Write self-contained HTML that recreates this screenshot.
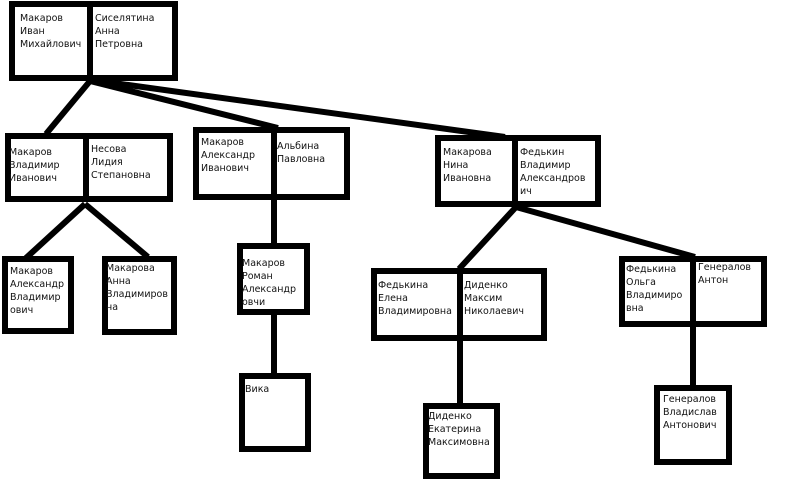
<!DOCTYPE html>
<html><head><meta charset="utf-8"><style>
html,body{margin:0;padding:0;background:#fff;width:800px;height:484px;overflow:hidden}
text{font-family:"DejaVu Sans","Liberation Sans",sans-serif;font-size:9.5px;fill:#111}
</style></head><body>
<svg width="800" height="484" viewBox="0 0 800 484" xmlns="http://www.w3.org/2000/svg">
<g stroke="#000" stroke-width="6" fill="none" stroke-linecap="butt">
<line x1="90" y1="81" x2="46" y2="134"/>
<line x1="90" y1="81" x2="278" y2="128"/>
<line x1="92" y1="80" x2="505" y2="137"/>
<line x1="85" y1="204" x2="26" y2="258"/>
<line x1="85" y1="204" x2="148" y2="257"/>
<line x1="274" y1="199" x2="274" y2="243"/>
<line x1="274" y1="315" x2="274" y2="374"/>
<line x1="516" y1="207" x2="459" y2="269"/>
<line x1="516" y1="207" x2="695" y2="257"/>
<line x1="460" y1="341" x2="460" y2="403"/>
<line x1="693" y1="327" x2="693" y2="385"/>
<rect x="12" y="4" width="163" height="74"/><line x1="90" y1="4" x2="90" y2="78"/>
<rect x="8" y="136" width="162" height="63"/><line x1="86" y1="136" x2="86" y2="199"/>
<rect x="196" y="130" width="151" height="67"/><line x1="274" y1="130" x2="274" y2="197"/>
<rect x="438" y="138" width="160" height="66"/><line x1="515" y1="138" x2="515" y2="204"/>
<rect x="374" y="271" width="170" height="67"/><line x1="460" y1="271" x2="460" y2="338"/>
<rect x="622" y="259" width="142" height="65"/><line x1="693" y1="259" x2="693" y2="324"/>
<rect x="5" y="259" width="66" height="72"/>
<rect x="105" y="259" width="69" height="73"/>
<rect x="240" y="246" width="67" height="66"/>
<rect x="242" y="376" width="66" height="73"/>
<rect x="426" y="406" width="71" height="70"/>
<rect x="657" y="388" width="72" height="74"/>
</g>
<g>
<text x="20" y="21">Макаров</text><text x="20" y="34">Иван</text><text x="20" y="47">Михайлович</text>
<text x="95" y="21">Сиселятина</text><text x="95" y="34">Анна</text><text x="95" y="47">Петровна</text>
<text x="9" y="155">Макаров</text><text x="9" y="168">Владимир</text><text x="9" y="181">Иванович</text>
<text x="91" y="152">Несова</text><text x="91" y="165">Лидия</text><text x="91" y="178">Степановна</text>
<text x="201" y="145">Макаров</text><text x="201" y="158">Александр</text><text x="201" y="171">Иванович</text>
<text x="277" y="149">Альбина</text><text x="277" y="162">Павловна</text>
<text x="443" y="155">Макарова</text><text x="443" y="168">Нина</text><text x="443" y="181">Ивановна</text>
<text x="520" y="155">Федькин</text><text x="520" y="168">Владимир</text><text x="520" y="181">Александров</text><text x="520" y="194">ич</text>
<text x="378" y="288">Федькина</text><text x="378" y="301">Елена</text><text x="378" y="314">Владимировна</text>
<text x="464" y="288">Диденко</text><text x="464" y="301">Максим</text><text x="464" y="314">Николаевич</text>
<text x="626" y="272">Федькина</text><text x="626" y="285">Ольга</text><text x="626" y="298">Владимиро</text><text x="626" y="311">вна</text>
<text x="698" y="270">Генералов</text><text x="698" y="283">Антон</text>
<text x="10" y="274">Макаров</text><text x="10" y="287">Александр</text><text x="10" y="300">Владимир</text><text x="10" y="313">ович</text>
<text x="106" y="271">Макарова</text><text x="106" y="284">Анна</text><text x="106" y="297">Владимиров</text><text x="106" y="310">на</text>
<text x="242" y="266">Макаров</text><text x="242" y="279">Роман</text><text x="242" y="292">Александр</text><text x="242" y="305">овчи</text>
<text x="245" y="392">Вика</text>
<text x="428" y="419">Диденко</text><text x="428" y="432">Екатерина</text><text x="428" y="445">Максимовна</text>
<text x="663" y="402">Генералов</text><text x="663" y="415">Владислав</text><text x="663" y="428">Антонович</text>
</g>
</svg>
</body></html>
